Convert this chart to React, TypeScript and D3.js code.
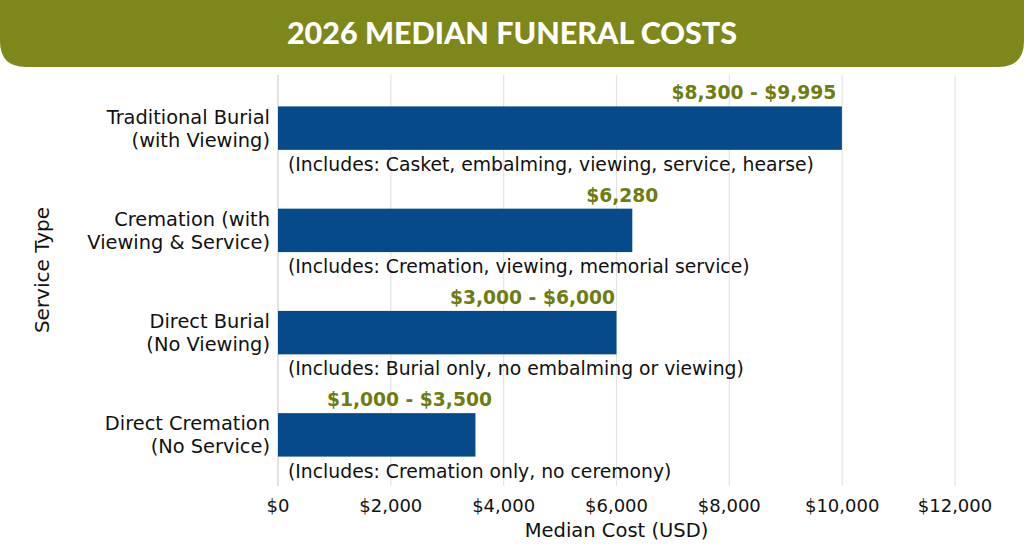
import React, { useRef, useEffect } from 'react'
import * as d3 from 'd3'

const title = '2026 MEDIAN FUNERAL COSTS'
const categories = [
  ['Traditional Burial', '(with Viewing)'],
  ['Cremation (with', 'Viewing & Service)'],
  ['Direct Burial', '(No Viewing)'],
  ['Direct Cremation', '(No Service)'],
]
const costs = [9995, 6280, 6000, 3500]
const costLabels = ['$8,300 - $9,995', '$6,280', '$3,000 - $6,000', '$1,000 - $3,500']
const includes = [
  '(Includes: Casket, embalming, viewing, service, hearse)',
  '(Includes: Cremation, viewing, memorial service)',
  '(Includes: Burial only, no embalming or viewing)',
  '(Includes: Cremation only, no ceremony)',
]
const xTicks = [0, 2000, 4000, 6000, 8000, 10000, 12000]

const W = 1024
const H = 559
const OLIVE = '#7e8719'
const LABEL = '#6e7c12'
const BLUE = '#074a8b'
const FONT = "'DejaVu Sans', sans-serif"

// label centre offsets (px) relative to the bar end
const labelShift = [-88, -10, -84, -66]

const App = () => {
  const svgRef = useRef<SVGSVGElement>(null)

  useEffect(() => {
    const svg = d3.select(svgRef.current).attr('width', W).attr('height', H)
    svg.selectAll('*').remove()

    // header banner
    const r = 26
    svg
      .append('path')
      .attr('d', `M0,0 H${W} V${67 - r} Q${W},67 ${W - r},67 H${r} Q0,67 0,${67 - r} Z`)
      .attr('fill', OLIVE)
    svg
      .append('text')
      .attr('x', W / 2)
      .attr('y', 44)
      .attr('text-anchor', 'middle')
      .attr('fill', '#fff')
      .attr('font-family', 'Lato, sans-serif')
      .attr('font-weight', 900)
      .attr('font-size', 30.5)
      .text(title)

    const x = d3.scaleLinear().domain([0, 12000]).range([278, 955])
    const keys = categories.map((c) => c.join(' '))
    const y = d3.scaleBand().domain(keys).range([77, 486]).paddingInner(0.575).paddingOuter(0.2875)

    // grid
    svg
      .append('g')
      .selectAll('line')
      .data(xTicks)
      .join('line')
      .attr('x1', (d) => x(d))
      .attr('x2', (d) => x(d))
      .attr('y1', 75)
      .attr('y2', 486)
      .attr('stroke', (d) => (d === 0 ? '#cfcfcf' : '#e4e4e4'))
      .attr('stroke-width', 1.2)

    // bars
    svg
      .append('g')
      .selectAll('rect')
      .data(costs)
      .join('rect')
      .attr('x', x(0))
      .attr('y', (_, i) => y(keys[i])!)
      .attr('width', (d) => x(d) - x(0))
      .attr('height', y.bandwidth())
      .attr('fill', BLUE)

    // value labels
    svg
      .append('g')
      .selectAll('text')
      .data(costLabels)
      .join('text')
      .attr('x', (_, i) => x(costs[i]) + labelShift[i])
      .attr('y', (_, i) => y(keys[i])! - 7)
      .attr('text-anchor', 'middle')
      .attr('fill', LABEL)
      .attr('font-family', FONT)
      .attr('font-weight', 'bold')
      .attr('font-size', 18.7)
      .text((d) => d)

    // includes notes
    svg
      .append('g')
      .selectAll('text')
      .data(includes)
      .join('text')
      .attr('x', x(0) + 10)
      .attr('y', (_, i) => y(keys[i])! + y.bandwidth() + 21)
      .attr('fill', '#111')
      .attr('font-family', FONT)
      .attr('font-size', 18.8)
      .text((d) => d)

    // category labels
    const cat = svg
      .append('g')
      .selectAll('text')
      .data(categories)
      .join('text')
      .attr('text-anchor', 'end')
      .attr('fill', '#111')
      .attr('font-family', FONT)
      .attr('font-size', 19.4)
    cat
      .selectAll('tspan')
      .data((d, i) => d.map((line) => ({ line, i })))
      .join('tspan')
      .attr('x', 270)
      .attr('y', (d, j) => y(keys[d.i])! + y.bandwidth() / 2 - 4.5 + j * 23)
      .text((d) => d.line)

    // x tick labels
    svg
      .append('g')
      .selectAll('text')
      .data(xTicks)
      .join('text')
      .attr('x', (d) => x(d))
      .attr('y', 512)
      .attr('text-anchor', 'middle')
      .attr('fill', '#111')
      .attr('font-family', FONT)
      .attr('font-size', 18)
      .text((d) => '$' + d3.format(',')(d))

    svg
      .append('text')
      .attr('x', (x(0) + x(12000)) / 2)
      .attr('y', 537)
      .attr('text-anchor', 'middle')
      .attr('fill', '#111')
      .attr('font-family', FONT)
      .attr('font-size', 19.5)
      .text('Median Cost (USD)')

    svg
      .append('text')
      .attr('transform', 'translate(49,270) rotate(-90)')
      .attr('text-anchor', 'middle')
      .attr('fill', '#111')
      .attr('font-family', FONT)
      .attr('font-size', 20)
      .text('Service Type')
  }, [])

  return (
    <div style={{ position: 'absolute', left: 0, top: 0, background: '#fff' }}>
      <svg ref={svgRef} style={{ display: 'block' }} />
    </div>
  )
}

export default App
